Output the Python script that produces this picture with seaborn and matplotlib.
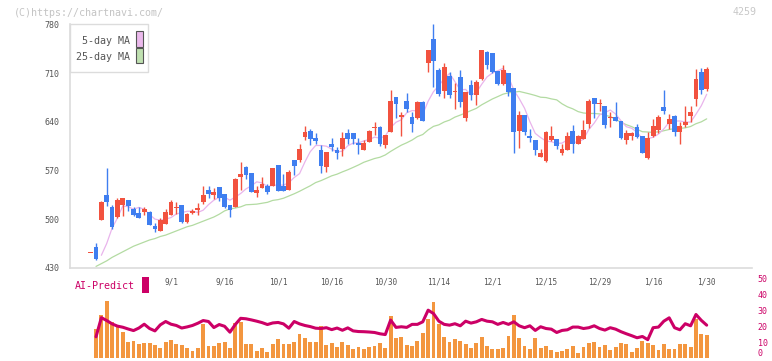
import numpy as np
import pandas as pd
import seaborn as sns
import matplotlib.pyplot as plt
from matplotlib.patches import Rectangle
from matplotlib.transforms import blended_transform_factory

# daily candles, the first one is a lone doji with no volume / prediction
open_ = [452,
         460, 499, 535, 517, 503, 520, 527, 514, 509, 510,
         510, 490, 483, 493, 506, 516, 520, 496, 509, 513,
         524, 542, 534, 546, 536, 520, 517, 560, 575, 566,
         538, 545, 548, 548, 578, 548, 542, 585, 585, 618,
         627, 617, 599, 575, 608, 599, 601, 624, 624, 609,
         599, 611, 631, 632, 606, 625, 676, 647, 670, 647,
         645, 668, 724, 759, 714, 684, 706, 683, 704, 645,
         693, 678, 701, 740, 739, 713, 694, 710, 688, 627,
         650, 620, 614, 589, 583, 614, 615, 595, 599, 627,
         608, 615, 637, 674, 665, 663, 645, 647, 641, 614,
         619, 632, 619, 588, 619, 628, 661, 637, 648, 625,
         635, 648, 673, 711, 687]
high = [452,
        466, 526, 574, 520, 530, 531, 527, 517, 517, 518,
        512, 495, 502, 514, 528, 525, 520, 509, 515, 523,
        547, 547, 544, 546, 536, 520, 559, 582, 576, 566,
        547, 560, 551, 574, 578, 565, 571, 585, 608, 634,
        630, 624, 606, 597, 617, 604, 625, 630, 624, 617,
        614, 628, 640, 634, 621, 686, 676, 654, 681, 654,
        670, 670, 743, 780, 717, 724, 711, 696, 714, 683,
        700, 700, 743, 742, 739, 713, 721, 710, 688, 655,
        650, 630, 614, 601, 627, 634, 615, 608, 625, 635,
        621, 642, 673, 674, 673, 663, 654, 668, 641, 628,
        625, 637, 619, 625, 644, 650, 686, 651, 650, 640,
        663, 663, 716, 717, 719]
low = [452,
       441, 498, 519, 486, 501, 505, 512, 504, 501, 506,
       491, 481, 483, 493, 506, 508, 494, 495, 508, 506,
       521, 531, 529, 526, 516, 503, 517, 542, 558, 539,
       532, 544, 536, 547, 541, 541, 542, 563, 582, 614,
       606, 608, 566, 568, 598, 586, 591, 608, 608, 594,
       599, 611, 621, 605, 602, 625, 645, 619, 654, 625,
       644, 641, 711, 690, 677, 674, 674, 658, 661, 641,
       671, 664, 700, 716, 710, 693, 693, 677, 595, 602,
       621, 611, 592, 589, 582, 612, 601, 592, 599, 595,
       608, 615, 631, 645, 655, 631, 632, 641, 615, 608,
       614, 617, 595, 586, 618, 624, 651, 629, 619, 608,
       632, 640, 663, 680, 684]
close = [452,
         443, 525, 524, 489, 527, 530, 519, 506, 502, 514,
         492, 486, 498, 510, 525, 518, 496, 507, 511, 516,
         534, 536, 539, 531, 517, 513, 558, 565, 564, 539,
         542, 550, 539, 573, 541, 541, 568, 576, 601, 625,
         615, 612, 576, 596, 604, 595, 617, 615, 615, 606,
         609, 627, 632, 608, 621, 670, 665, 650, 658, 637,
         668, 641, 743, 727, 680, 719, 678, 684, 668, 683,
         678, 697, 743, 721, 711, 694, 714, 683, 625, 650,
         625, 617, 599, 595, 625, 620, 605, 601, 619, 608,
         619, 628, 670, 665, 667, 635, 647, 641, 617, 624,
         624, 618, 595, 617, 634, 647, 655, 644, 625, 634,
         640, 654, 701, 686, 716]
ma5 = [np.nan, np.nan,
       448, 465, 487, 501.6, 519, 517.8, 514.2, 516.8, 514.2,
       506.6, 500, 498.4, 500, 502.2, 507.4, 509.4, 511.2, 511.4, 509.6,
       512.8, 520.8, 527.2, 531.2, 531.4, 527.2, 531.6, 536.8, 543.4, 547.8,
       553.6, 552, 546.8, 548.6, 549, 548.8, 552.4, 559.8, 565.4, 582.2,
       597, 605.8, 605.8, 604.8, 600.6, 596.6, 597.6, 605.4, 609.2, 609.6,
       612.4, 614.4, 617.8, 616.4, 619.4, 631.6, 639.2, 642.8, 652.8, 656,
       655.6, 650.8, 669.4, 683.2, 691.8, 702, 709.4, 697.6, 685.8, 686.4,
       678.2, 682, 693.8, 704.4, 710, 713.2, 716.6, 704.6, 685.4, 673.2,
       659.4, 640, 623.2, 617.2, 612.2, 611.2, 608.8, 609.2, 614, 610.6,
       610.4, 615, 628.8, 638, 649.8, 653, 656.8, 651, 641.4, 632.8,
       630.6, 624.8, 615.6, 615.6, 617.6, 622.2, 629.6, 639.4, 641, 641,
       639.6, 639.4, 650.8, 663, 679.4]
ma25 = [np.nan,
        432, 436, 440, 445, 449, 453, 457, 461, 464, 467,
        470, 472, 475, 477, 480, 483, 486, 489, 491, 494,
        497, 500, 503, 507, 511.8, 514.6, 515.9, 517.6, 520.6, 521,
        521.5, 522.8, 524.1, 526.9, 528, 530, 533.2, 536.4, 540, 544,
        547.9, 552.5, 555.3, 558.7, 562.2, 564.6, 567.9, 570.9, 574.3, 577.8,
        581.7, 584.4, 587.1, 588.9, 592.2, 597.3, 601.9, 606.3, 609.7, 613.6,
        618.6, 621.6, 628.2, 633.3, 635.5, 639.6, 642.3, 646.6, 649.5, 652.6,
        656, 659.2, 664.3, 668.5, 672.7, 676.1, 679.6, 681.6, 682.3, 683.5,
        681.7, 679.8, 677.7, 675.2, 674.7, 672.8, 671.4, 665.7, 661.4, 658.5,
        654.5, 652.5, 651.9, 651.8, 651.2, 649.4, 647.4, 643.4, 639.2, 635.7,
        632.9, 629.1, 625.6, 625.2, 624.6, 625.5, 627, 628.8, 630, 630.4,
        631.2, 633.1, 637.1, 639.8, 644.1]
volume = [0,
          18.1, 26.9, 35.6, 22.3, 21.0, 16.2, 10, 10.6, 8.7, 9.4,
          9.4, 8.1, 6.2, 10, 11.2, 8.7, 8.1, 6.2, 4.4, 6.2,
          21.2, 7.5, 7.5, 9.4, 10, 6.2, 21.9, 22.5, 8.7, 8.7,
          4.4, 6.2, 3.7, 8.7, 11.9, 8.7, 8.7, 10, 15, 12.5,
          10, 10, 20, 8.1, 9.4, 6.9, 10, 8.1, 5.6, 6.9,
          5.6, 6.9, 7.5, 9.4, 6.2, 26.2, 12.5, 13.1, 8.1, 7.5,
          10.6, 15.6, 24.4, 35, 21.2, 13.1, 10, 11.9, 10.6, 8.7,
          6.2, 9.4, 13.1, 7.5, 5.6, 5.6, 6.2, 13.7, 26.9, 12.5,
          7.5, 5.6, 12.5, 6.2, 7.5, 5, 3.7, 4.4, 5.6, 7.5,
          3.1, 6.9, 9.4, 10, 6.9, 8.1, 5, 6.9, 9.4, 8.7,
          3.7, 6.2, 10.6, 9.4, 8.1, 5, 8.7, 5.6, 5.6, 8.7,
          8.7, 6.9, 24.4, 15, 14.4]
ai_predict = [np.nan,
              13.3, 25.3, 23.5, 21.4, 20, 19.3, 18.2, 17.2, 18.8, 21.2,
              18.5, 17, 20.8, 22.9, 21.2, 20.4, 18.8, 19.5, 20.4, 21.8,
              23.5, 22.9, 19.1, 21, 19.9, 16.2, 21, 24.9, 24.6, 23.9,
              23.1, 22.2, 21, 22, 22.3, 21.4, 18.7, 22.9, 21.4, 20.4,
              19.7, 18.7, 18.5, 19, 17.8, 18.8, 17.4, 18.9, 17, 16.6,
              16.5, 16.3, 16, 15.2, 14.7, 23.8, 19.2, 19.6, 19.2, 21.1,
              21.1, 22.7, 30, 27.9, 23.1, 21.1, 20.6, 21.5, 20.2, 23.1,
              21.9, 22.7, 24.2, 23.1, 22.7, 21.1, 22.3, 21.1, 22.7, 20.2,
              19, 20.2, 17.3, 19.6, 18.5, 18.1, 16, 17.3, 17.7, 19.4,
              19.4, 18.5, 19, 20.2, 18.5, 17.5, 19, 18.1, 16.5, 15.2,
              14, 12.7, 13.5, 11.5, 19, 19.4, 23.1, 25.2, 19, 17.7,
              21.5, 20.2, 27.3, 23.6, 20.6]

date_labels = ["9/1", "9/16", "10/1", "10/16", "10/30", "11/14",
               "12/1", "12/15", "12/29", "1/16", "1/30"]
date_idx = [15, 25, 35, 45, 55, 65, 75, 85, 95, 105, 115]

RED, BLUE = "#f2523f", "#3f7ef0"
ORANGE, CRIMSON = "#f3963f", "#cc0066"
GRID = "#dcdcdc"

df = pd.DataFrame({"pos": np.arange(len(close)), "open": open_, "high": high,
                   "low": low, "close": close, "ma5": ma5, "ma25": ma25,
                   "volume": volume, "ai": ai_predict})

sns.set_style("white")
plt.rcParams['font.family'] = ['DejaVu Sans Mono']

W, H = 772, 361
fig = plt.figure(figsize=(W / 100, H / 100), dpi=100)
ax = fig.add_axes([70.3 / W, 1 - 267.8 / H, 681.7 / W, 243.5 / H])
axb = fig.add_axes([70.3 / W, 1 - 358 / H, 681.7 / W, 79.7 / H])
xlim = (-3.8, 123.46)

# moving averages behind the candles
sns.lineplot(data=df, x="pos", y="ma25", ax=ax, color="#b3dba2", linewidth=0.9, zorder=1)
sns.lineplot(data=df, x="pos", y="ma5", ax=ax, color="#e9b4ec", linewidth=0.9, zorder=1)

up = df["close"] >= df["open"]
cols = np.where(up, RED, BLUE)
ax.vlines(df["pos"], df["low"], df["high"], colors=cols, linewidth=1.0, zorder=2)
body = (df["close"] - df["open"]).abs()
body_h = np.maximum(body, 1.8)
body_lo = np.minimum(df["open"], df["close"]) - (body_h - body) / 2
ax.bar(df["pos"], body_h, bottom=body_lo, width=0.9, color=cols,
       linewidth=0, edgecolor="none", zorder=3)

ax.set_xlim(*xlim)
ax.set_ylim(430, 780)
ax.set_yticks(range(430, 781, 70))
ax.set_xticks(np.linspace(xlim[0], xlim[1], 12))
ax.set_xlabel("")
ax.set_ylabel("")
ax.tick_params(axis="y", length=3.6, width=1, color=GRID, labelsize=6,
               labelcolor="#555555", pad=4.3)
ax.tick_params(axis="x", length=4.5, width=1.2, color=GRID, labelbottom=False)
for s in ["top", "right"]:
    ax.spines[s].set_visible(False)
for s in ["left", "bottom"]:
    ax.spines[s].set_color(GRID)
    ax.spines[s].set_linewidth(1.2)

tr = blended_transform_factory(ax.transData, fig.transFigure)
for p, lab in zip(date_idx, date_labels):
    ax.text(p, 1 - 282 / H, lab, transform=tr, ha="center", va="center",
            fontsize=5.6, color="#555555", clip_on=False)

# volume + AI prediction panel (categorical bars sit at 0..n-1 = pos)
sns.barplot(data=df, x="pos", y="volume", color=ORANGE, saturation=1,
            width=0.72, errorbar=None, linewidth=0, edgecolor="none", ax=axb)
sns.lineplot(data=df, x="pos", y="ai", ax=axb, color=CRIMSON, linewidth=2.2)
axb.set_xlim(*xlim)
axb.set_ylim(0, 50)
axb.set_xticks([])
axb.set_xlabel("")
axb.set_ylabel("")
axb.yaxis.tick_right()
axb.set_yticks(range(0, 51, 10))
axb.tick_params(axis="y", length=0, labelsize=6, labelcolor=CRIMSON, pad=4)
axb.get_yticklabels()[0].set_va("bottom")
for s in axb.spines.values():
    s.set_visible(False)
axb.patch.set_alpha(0)

# legend box
fig.add_artist(Rectangle((70.3 / W, 1 - 71.7 / H), 78 / W, 47.4 / H,
                         transform=fig.transFigure, facecolor="white",
                         edgecolor=GRID, linewidth=1))
fig.text(129.5 / W, 1 - 41 / H, "5-day MA", ha="right", va="center",
         fontsize=7.2, color="#555555")
fig.text(129.5 / W, 1 - 56.7 / H, "25-day MA", ha="right", va="center",
         fontsize=7.2, color="#555555")
fig.add_artist(Rectangle((136 / W, 1 - 46.5 / H), 6.7 / W, 15 / H,
                         transform=fig.transFigure, facecolor="#ebb9ec",
                         edgecolor="#555555", linewidth=0.8))
fig.add_artist(Rectangle((136 / W, 1 - 63.3 / H), 6.7 / W, 15 / H,
                         transform=fig.transFigure, facecolor="#bfe0b0",
                         edgecolor="#555555", linewidth=0.8))

fig.text(75.3 / W, 1 - 286 / H, "AI-Predict", ha="left", va="center",
         fontsize=7.2, color=CRIMSON)
fig.add_artist(Rectangle((141.7 / W, 1 - 292.7 / H), 7.3 / W, 16 / H,
                         transform=fig.transFigure, facecolor=CRIMSON,
                         edgecolor="none"))

fig.text(14 / W, 1 - 12.7 / H, "(C)https://chartnavi.com/", ha="left",
         va="center", fontsize=7.2, color="#c4c4c4")
fig.text(757 / W, 1 - 12 / H, "4259", ha="right", va="center",
         fontsize=7.2, color="#c8c8c8")

fig.savefig("out.png", dpi=100)
